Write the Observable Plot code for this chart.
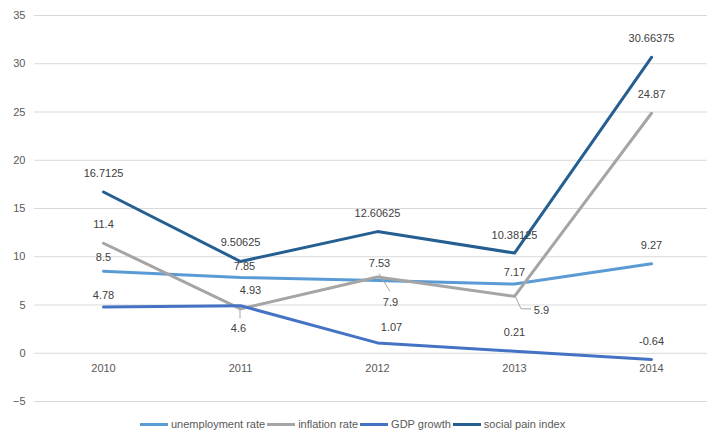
<!DOCTYPE html>
<html>
<head>
<meta charset="utf-8">
<script src="https://cdn.jsdelivr.net/npm/d3@7"></script>
<script src="https://cdn.jsdelivr.net/npm/@observablehq/plot@0.6"></script>
<style>
  html, body { margin: 0; padding: 0; background: #fff; }
  body { width: 707px; height: 434px; position: relative; overflow: hidden; font-family: "Liberation Sans", Arial, sans-serif; }
  #legend { position: absolute; top: 417px; left: 140px; display: flex; align-items: center; font-size: 11px; color: #595959; white-space: nowrap; line-height: 14px; }
  #legend .item { display: flex; align-items: center; margin-right: 2px; }
  #legend .sw { display: inline-block; width: 28px; height: 3px; margin-right: 3px; }
</style>
</head>
<body>
<div id="chart"></div>
<div id="legend"></div>
<script>
const years = ["2010", "2011", "2012", "2013", "2014"];
const seriesNames = ["unemployment rate", "inflation rate", "GDP growth", "social pain index"];
const unemployment = [8.5, 7.85, 7.53, 7.17, 9.27];
const inflation = [11.4, 4.6, 7.9, 5.9, 24.87];
const gdpGrowth = [4.78, 4.93, 1.07, 0.21, -0.64];
const socialPain = [16.7125, 9.50625, 12.60625, 10.38125, 30.66375];
const yTicks = [-5, 0, 5, 10, 15, 20, 25, 30, 35];
const colors = ["#5B9BD5", "#A5A5A5", "#4472C4", "#255E91"];

// label placement (pixel offsets from each point)
const labelDx = [[0, 4, 2, 0, 0], [0, -2, 13, 27, 0], [0, 10, 14, 0, 0], [0, 0, 0, 0, 0]];
const labelDy = [[-14, -11, -17, -12, -18], [-19, 20, 25, 14, -19], [-12, -15, -15, -19, -18], [-18.5, -19, -18, -17.6, -18.8]];
// leader lines for inflation labels: [yearIndex, [pixel offsets]]
const leaders = [[1, [[0, 0], [0, 10]]], [2, [[2, -3], [13, 15]]], [3, [[1, 0], [7, 13], [17, 13]]]];

const seriesValues = [unemployment, inflation, gdpGrowth, socialPain];
const rows = [];
seriesValues.forEach((vals, s) => vals.forEach((v, i) => rows.push({series: seriesNames[s], s, i, year: years[i], value: v})));

const font = "Liberation Sans, Arial, sans-serif";
const lineMarks = seriesNames.map((name, s) =>
  Plot.line(rows.filter(d => d.s === s), {x: "year", y: "value", stroke: colors[s], strokeWidth: 3, strokeLinejoin: "round", strokeLinecap: "round"})
);
const labelMarks = rows.map(d =>
  Plot.text([d], {x: "year", y: "value", text: r => String(r.value), dx: labelDx[d.s][d.i], dy: labelDy[d.s][d.i], fill: "#404040", fontSize: 11})
);

const chart = Plot.plot({
  width: 707,
  height: 410,
  marginLeft: 34,
  marginRight: 0,
  marginTop: 15,
  marginBottom: 9,
  style: {fontFamily: font, fontSize: "11px", color: "#595959", background: "#fff"},
  x: {type: "point", domain: years, padding: 0.4517, align: 0.548, axis: null},
  y: {domain: [-5, 35], axis: null},
  marks: [
    Plot.ruleY(yTicks, {stroke: "#D9D9D9", strokeWidth: 1}),
    Plot.axisY(yTicks, {tickSize: 0, tickPadding: 9, fontSize: 11, fill: "#595959", label: null}),
    Plot.text(years, {x: d => d, y: 0, dy: 15.5, text: d => d, fill: "#595959", fontSize: 11}),
    ...lineMarks,
    ...labelMarks
  ]
});
document.getElementById("chart").appendChild(chart);

// leader lines drawn with the chart's own scales
const sx = chart.scale("x"), sy = chart.scale("y");
leaders.forEach(([i, pts]) => {
  const px = sx.apply(years[i]), py = sy.apply(inflation[i]);
  d3.select(chart).append("path")
    .attr("d", d3.line()(pts.map(([ox, oy]) => [px + ox, py + oy])))
    .attr("fill", "none").attr("stroke", "#A6A6A6").attr("stroke-width", 1);
});

const legend = d3.select("#legend");
seriesNames.forEach((name, s) => {
  const it = legend.append("span").attr("class", "item");
  it.append("span").attr("class", "sw").style("background", colors[s]);
  it.append("span").text(name);
});
</script>
</body>
</html>
